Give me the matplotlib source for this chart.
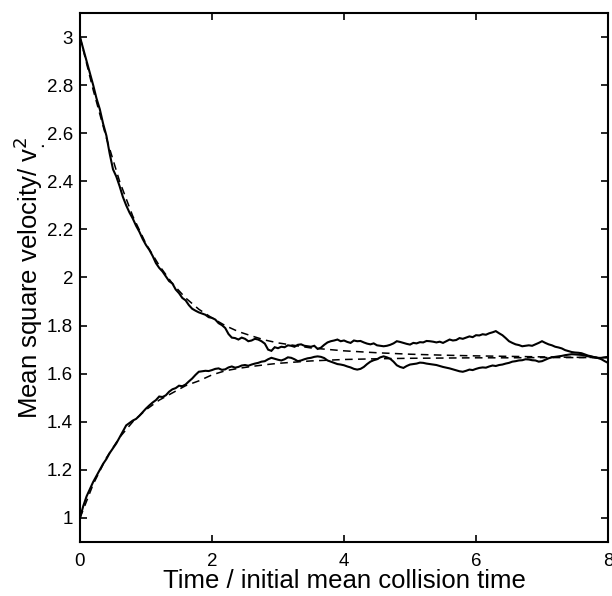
import numpy as np
import matplotlib
matplotlib.use("Agg")
import matplotlib.pyplot as plt

plt.rcParams['font.family'] = ['Liberation Sans', 'DejaVu Sans']

# ---- data ----
t_sim = [round(0.05 * i, 2) for i in range(161)]

upper_sim = [
    3.00, 2.95, 2.90, 2.85, 2.80, 2.745, 2.70, 2.64, 2.59, 2.515,
    2.45, 2.42, 2.38, 2.335, 2.30, 2.27, 2.245, 2.215, 2.19, 2.16,
    2.135, 2.115, 2.09, 2.06, 2.04, 2.025, 2.005, 1.985, 1.975, 1.95,
    1.935, 1.915, 1.905, 1.885, 1.87, 1.862, 1.855, 1.85, 1.845, 1.835,
    1.832, 1.825, 1.81, 1.802, 1.79, 1.765, 1.75, 1.748, 1.742, 1.75,
    1.745, 1.735, 1.738, 1.745, 1.742, 1.735, 1.725, 1.70, 1.695, 1.71,
    1.706, 1.712, 1.71, 1.718, 1.716, 1.712, 1.72, 1.722, 1.716, 1.714,
    1.712, 1.716, 1.703, 1.708, 1.72, 1.73, 1.735, 1.738, 1.742, 1.735,
    1.738, 1.732, 1.728, 1.738, 1.735, 1.736, 1.73, 1.725, 1.722, 1.726,
    1.718, 1.716, 1.714, 1.716, 1.72, 1.726, 1.735, 1.732, 1.728, 1.724,
    1.721, 1.728, 1.726, 1.731, 1.73, 1.736, 1.735, 1.733, 1.73, 1.733,
    1.728, 1.735, 1.742, 1.738, 1.74, 1.748, 1.745, 1.75, 1.755, 1.752,
    1.76, 1.759, 1.764, 1.762, 1.768, 1.772, 1.777, 1.768, 1.76, 1.748,
    1.735, 1.728, 1.722, 1.719, 1.714, 1.716, 1.718, 1.716, 1.722, 1.728,
    1.735, 1.728, 1.722, 1.718, 1.712, 1.709, 1.705, 1.698, 1.694, 1.69,
    1.688, 1.687, 1.685, 1.68, 1.675, 1.672, 1.668, 1.665, 1.666, 1.668,
    1.67]

lower_sim = [
    1.00, 1.05, 1.09, 1.12, 1.15, 1.175, 1.20, 1.225, 1.245, 1.27,
    1.29, 1.31, 1.335, 1.36, 1.385, 1.395, 1.405, 1.412, 1.425, 1.44,
    1.455, 1.468, 1.48, 1.49, 1.505, 1.503, 1.51, 1.525, 1.535, 1.54,
    1.55, 1.548, 1.555, 1.568, 1.58, 1.595, 1.608, 1.61, 1.612, 1.611,
    1.615, 1.62, 1.622, 1.616, 1.618, 1.626, 1.63, 1.625, 1.628, 1.634,
    1.636, 1.633, 1.638, 1.642, 1.645, 1.65, 1.652, 1.66, 1.666, 1.662,
    1.658, 1.655, 1.66, 1.668, 1.666, 1.66, 1.652, 1.655, 1.66, 1.664,
    1.666, 1.67, 1.672, 1.67, 1.665, 1.655, 1.65, 1.645, 1.64, 1.638,
    1.635, 1.63, 1.626, 1.62, 1.617, 1.62, 1.628, 1.64, 1.65, 1.656,
    1.66, 1.668, 1.672, 1.668, 1.662, 1.65, 1.635, 1.628, 1.624, 1.632,
    1.638, 1.64, 1.642, 1.646, 1.645, 1.642, 1.64, 1.638, 1.636, 1.632,
    1.628, 1.625, 1.622, 1.618, 1.614, 1.61, 1.608, 1.612, 1.617, 1.615,
    1.62, 1.624, 1.626, 1.625, 1.63, 1.634, 1.632, 1.636, 1.638, 1.642,
    1.645, 1.65, 1.652, 1.655, 1.656, 1.66, 1.659, 1.656, 1.655, 1.65,
    1.652, 1.658, 1.664, 1.668, 1.67, 1.672, 1.674, 1.677, 1.679, 1.681,
    1.68, 1.679, 1.678, 1.675, 1.672, 1.67, 1.668, 1.665, 1.66, 1.652,
    1.645]

t_theory = [0.0, 0.2, 0.4, 0.6, 0.8, 1.0, 1.2, 1.4, 1.6, 1.8, 2.0, 2.2, 2.4,
            2.6, 2.8, 3.0, 3.5, 4.0, 4.5, 5.0, 5.5, 6.0, 6.5, 7.0, 7.5, 8.0]
upper_theory = [3.0, 2.78, 2.58, 2.40, 2.255, 2.14, 2.05, 1.975, 1.915, 1.868,
                1.832, 1.80, 1.775, 1.757, 1.74, 1.728, 1.707, 1.695, 1.687,
                1.681, 1.677, 1.674, 1.672, 1.670, 1.668, 1.667]
lower_theory = [1.0, 1.14, 1.25, 1.335, 1.40, 1.45, 1.49, 1.52, 1.55, 1.57,
                1.595, 1.612, 1.622, 1.63, 1.637, 1.643, 1.653, 1.659, 1.662,
                1.664, 1.665, 1.666, 1.666, 1.667, 1.667, 1.667]

x_ticks = [0, 2, 4, 6, 8]
y_ticks = [1, 1.2, 1.4, 1.6, 1.8, 2, 2.2, 2.4, 2.6, 2.8, 3]
y_tick_labels = ['1', '1.2', '1.4', '1.6', '1.8', '2', '2.2', '2.4', '2.6', '2.8', '3']

# ---- figure ----
fig = plt.figure(figsize=(6.12, 5.96), dpi=100)
ax = fig.add_axes([0.1307, 0.0906, 0.8628, 0.8876])

ax.plot(t_sim, upper_sim, color='black', lw=1.5, solid_joinstyle='miter')
ax.plot(t_sim, lower_sim, color='black', lw=1.5, solid_joinstyle='miter')
ax.plot(t_theory, upper_theory, color='black', lw=1.1, dashes=(5, 3.5))
ax.plot(t_theory, lower_theory, color='black', lw=1.1, dashes=(5, 3.5))

ax.set_xlim(0, 8)
ax.set_ylim(0.9, 3.1)
ax.set_xticks(x_ticks)
ax.set_xticklabels([str(v) for v in x_ticks])
ax.set_yticks(y_ticks)
ax.set_yticklabels(y_tick_labels)
ax.tick_params(direction='in', length=5, width=1.2, top=True, right=True,
               labelsize=13.5)
ax.tick_params(axis='x', pad=8)
ax.tick_params(axis='y', pad=5)
for s in ax.spines.values():
    s.set_linewidth(1.5)

ax.set_xlabel('Time / initial mean collision time', fontsize=18.5, labelpad=-1)
ax.set_ylabel(r'Mean square velocity/ v$_{.}^{2}$', fontsize=18.5, labelpad=0)

fig.savefig('out.png', dpi=100)
